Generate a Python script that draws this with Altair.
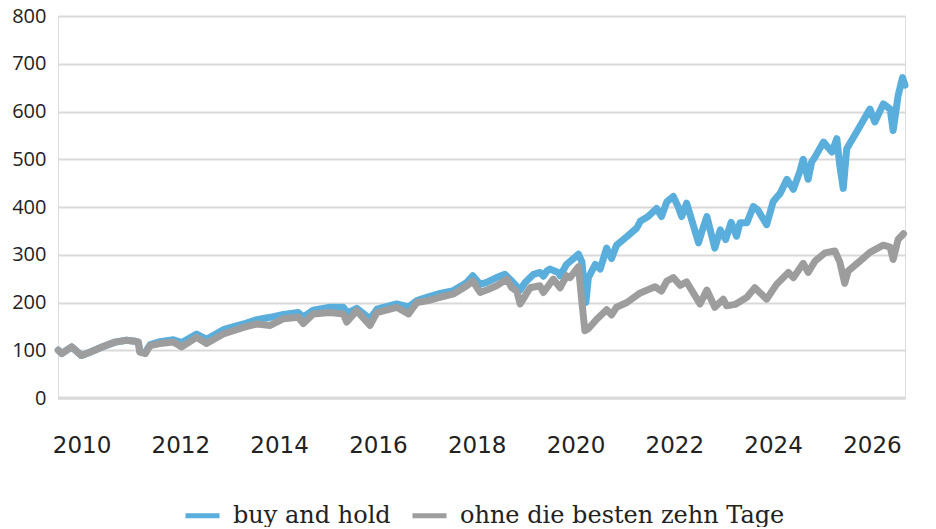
import altair as alt
import pandas as pd

SERIES = ["buy and hold", "ohne die besten zehn Tage"]
COLORS = ["#5aaedb", "#9d9d9d"]

bh_year = [2009.53, 2009.60, 2009.80, 2010.00, 2010.17, 2010.44, 2010.68, 2010.91, 2011.08, 2011.15,
           2011.18, 2011.29, 2011.39, 2011.59, 2011.86, 2012.03, 2012.33, 2012.53, 2012.87, 2013.28,
           2013.55, 2013.82, 2014.09, 2014.39, 2014.49, 2014.69, 2015.03, 2015.30, 2015.37, 2015.44,
           2015.57, 2015.84, 2015.98, 2016.38, 2016.62, 2016.79, 2017.02, 2017.26, 2017.53, 2017.80,
           2017.92, 2018.07, 2018.20, 2018.44, 2018.57, 2018.71, 2018.88, 2018.98, 2019.15, 2019.28,
           2019.35, 2019.42, 2019.48, 2019.65, 2019.69, 2019.82, 2020.06, 2020.13, 2020.19, 2020.21,
           2020.26, 2020.40, 2020.50, 2020.63, 2020.73, 2020.83, 2021.04, 2021.24, 2021.31, 2021.47,
           2021.64, 2021.74, 2021.85, 2021.98, 2022.08, 2022.15, 2022.25, 2022.36, 2022.49, 2022.56,
           2022.66, 2022.82, 2022.93, 2023.04, 2023.15, 2023.26, 2023.33, 2023.47, 2023.60, 2023.69,
           2023.73, 2023.87, 2024.00, 2024.07, 2024.14, 2024.28, 2024.41, 2024.54, 2024.61, 2024.71,
           2024.78, 2024.85, 2025.02, 2025.19, 2025.29, 2025.35, 2025.42, 2025.49, 2025.69, 2025.96,
           2026.06, 2026.23, 2026.37, 2026.43, 2026.53, 2026.62, 2026.67]
bh_value = [100, 93, 107, 89, 96, 108, 117, 121, 119, 117,
            98, 95, 112, 118, 122, 116, 134, 123, 143, 155,
            164, 169, 175, 179, 170, 184, 190, 190, 179, 181,
            188, 166, 186, 197, 191, 204, 212, 219, 225, 242,
            256, 238, 242, 254, 259, 245, 226, 242, 259, 263,
            255, 266, 270, 263, 256, 280, 301, 285, 215, 200,
            252, 280, 270, 314, 292, 320, 338, 356, 370, 380,
            397, 380, 411, 422, 400, 380, 408, 370, 325, 349,
            380, 314, 352, 332, 368, 339, 367, 367, 401, 394,
            387, 363, 411, 420, 428, 458, 437, 474, 500, 458,
            494, 505, 536, 515, 543, 487, 439, 522, 557, 605,
            578, 616, 605, 560, 633, 671, 655]

oh_year = [2009.53, 2009.60, 2009.80, 2010.00, 2010.17, 2010.44, 2010.68, 2010.91, 2011.08, 2011.15,
           2011.18, 2011.29, 2011.39, 2011.59, 2011.86, 2012.03, 2012.33, 2012.53, 2012.87, 2013.28,
           2013.55, 2013.82, 2014.09, 2014.39, 2014.49, 2014.69, 2015.03, 2015.30, 2015.37, 2015.57,
           2015.84, 2015.98, 2016.38, 2016.62, 2016.79, 2017.02, 2017.26, 2017.53, 2017.80, 2017.92,
           2018.07, 2018.20, 2018.40, 2018.61, 2018.71, 2018.81, 2018.88, 2018.98, 2019.08, 2019.28,
           2019.35, 2019.55, 2019.69, 2019.82, 2019.89, 2020.06, 2020.13, 2020.19, 2020.26, 2020.43,
           2020.63, 2020.73, 2020.83, 2021.04, 2021.31, 2021.61, 2021.74, 2021.85, 2021.98, 2022.12,
           2022.25, 2022.52, 2022.66, 2022.82, 2022.99, 2023.06, 2023.23, 2023.47, 2023.63, 2023.87,
           2024.07, 2024.31, 2024.41, 2024.61, 2024.71, 2024.85, 2025.05, 2025.25, 2025.35, 2025.45,
           2025.52, 2025.76, 2025.96, 2026.23, 2026.37, 2026.43, 2026.53, 2026.64]
oh_value = [100, 93, 107, 89, 96, 108, 117, 121, 119, 117,
            96, 93, 110, 114, 117, 107, 127, 114, 134, 148,
            155, 152, 166, 169, 156, 176, 179, 176, 159, 183,
            152, 179, 190, 176, 200, 204, 211, 218, 235, 245,
            221, 226, 235, 249, 231, 224, 197, 214, 231, 235,
            221, 249, 231, 256, 252, 275, 200, 141, 145, 165,
            185, 174, 190, 200, 220, 233, 224, 245, 252, 236,
            243, 197, 226, 190, 207, 193, 196, 211, 231, 207,
            238, 263, 252, 282, 263, 287, 304, 308, 285, 240,
            266, 287, 305, 320, 316, 290, 332, 344]

y_ticks = [0, 100, 200, 300, 400, 500, 600, 700, 800]
x_ticks = [2010, 2012, 2014, 2016, 2018, 2020, 2022, 2024, 2026]

df_bh = pd.DataFrame({"Jahr": bh_year, "Wert": bh_value, "Serie": SERIES[0]})
df_oh = pd.DataFrame({"Jahr": oh_year, "Wert": oh_value, "Serie": SERIES[1]})
df_zero = pd.DataFrame({"Wert": [0]})

x_scale = alt.Scale(domain=[2009.524, 2026.67], nice=False, zero=False)
y_scale = alt.Scale(domain=[0, 800], nice=False)
color_scale = alt.Scale(domain=SERIES, range=COLORS)

x_axis = alt.Axis(values=x_ticks, format="d", title=None, grid=False, domain=False, ticks=False,
                  labelFontSize=23, labelFont="DejaVu Sans", labelColor="#222222",
                  labelPadding=36, labelFlush=False, labelOverlap=False)
y_axis = alt.Axis(values=y_ticks, format="d", title=None, grid=True, gridColor="#d9d9d9", gridWidth=2,
                  domain=False, ticks=False, labelFontSize=20, labelFont="Open Sans",
                  labelColor="#222222", labelPadding=12, labelFlush=False, labelOverlap=False)

legend = alt.Legend(orient="none", legendX=125, legendY=480, direction="horizontal", title=None,
                    symbolType="stroke", symbolSize=1156, symbolStrokeWidth=5,
                    labelFont="DejaVu Serif", labelFontSize=24, labelColor="#222222",
                    labelOffset=11, columnPadding=11, padding=0, labelLimit=0)

zero = alt.Chart(df_zero).mark_rule(color="#d9d9d9", strokeWidth=3).encode(
    y=alt.Y("Wert:Q", scale=y_scale, axis=y_axis)
)

line_bh = alt.Chart(df_bh).mark_line(strokeWidth=7, strokeCap="round", strokeJoin="round").encode(
    x=alt.X("Jahr:Q", scale=x_scale, axis=x_axis),
    y=alt.Y("Wert:Q", scale=y_scale, axis=y_axis),
    color=alt.Color("Serie:N", scale=color_scale, legend=legend),
)
line_oh = alt.Chart(df_oh).mark_line(strokeWidth=7, strokeCap="round", strokeJoin="round").encode(
    x=alt.X("Jahr:Q", scale=x_scale, axis=x_axis),
    y=alt.Y("Wert:Q", scale=y_scale, axis=y_axis),
    color=alt.Color("Serie:N", scale=color_scale, legend=legend),
)

chart = alt.layer(zero, line_bh, line_oh).properties(
    width=847, height=382,
    autosize=alt.AutoSizeParams(type="none"),
    padding={"left": 50, "top": 8, "right": 23, "bottom": 129},
).configure_view(stroke=None).configure(background="white")

chart.save("out.html", embed_options={"renderer": "svg", "actions": False})
